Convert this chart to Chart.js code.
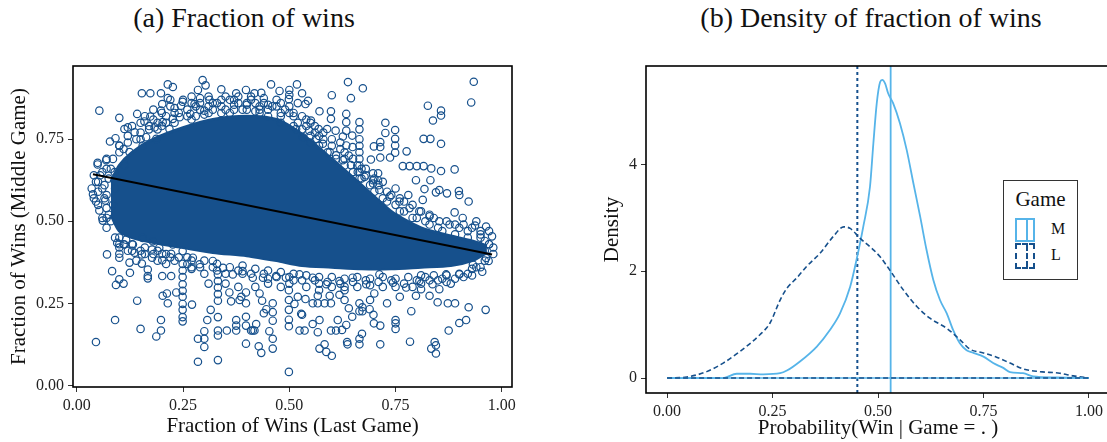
<!DOCTYPE html>
<html><head><meta charset="utf-8">
<script src="https://cdn.jsdelivr.net/npm/chart.js@4.4.1/dist/chart.umd.min.js"></script>
<style>
html,body{margin:0;padding:0;background:#fff;width:1107px;height:442px;overflow:hidden;position:relative;font-family:'Liberation Serif',serif;color:#111;}
canvas{position:absolute;top:0;}
#c1{left:0;}
#c2{left:540px;}
.ttl{position:absolute;top:2px;font-size:28px;white-space:nowrap;text-align:center;}
#legend{position:absolute;left:1003px;top:180px;width:73px;height:98px;border:1px solid #333;background:#fff;}
#legend .gt{position:absolute;left:0;width:73px;top:6px;text-align:center;font-size:21px;}
.gl{position:absolute;left:11px;width:20px;box-sizing:border-box;}
.gl .mid{position:absolute;left:9px;top:0;bottom:0;width:0;}
.lab{position:absolute;left:47px;font-size:16px;}
</style></head>
<body>
<div class="ttl" style="left:0;width:488px;">(a) Fraction of wins</div>
<div class="ttl" style="left:621px;width:500px;">(b) Density of fraction of wins</div>
<canvas id="c1" width="540" height="442"></canvas>
<canvas id="c2" width="570" height="442"></canvas>
<div id="legend">
  <div class="gt">Game</div>
  <div class="gl" style="top:37px;height:24px;border:2px solid #56B4E9;"><div class="mid" style="border-left:2px solid #56B4E9;"></div></div>
  <div class="lab" style="top:39px;">M</div>
  <div class="gl" style="top:62px;height:26px;border:2px dashed #16508c;"><div class="mid" style="border-left:2px dashed #16508c;"></div></div>
  <div class="lab" style="top:65px;">L</div>
</div>
<script>
// ---------- Panel (a): scatter of fraction of wins ----------
const xTicksA = [0, 0.25, 0.5, 0.75, 1];
const yTicksA = [0, 0.25, 0.5, 0.75];
// regression line end points (last game -> middle game)
const regX = [0.038, 0.977];
const regY = [0.643, 0.399];
// saturated core of the point cloud (upper / lower edge)
const coreX     = [0.08, 0.10, 0.13, 0.18, 0.25, 0.32, 0.40, 0.47, 0.53, 0.60, 0.67, 0.74, 0.81, 0.88, 0.93, 0.965];
const coreUpper = [0.62, 0.67, 0.71, 0.75, 0.785,0.81, 0.82, 0.81, 0.765,0.69, 0.61, 0.53, 0.48, 0.455,0.44, 0.425];
const coreLower = [0.52, 0.47, 0.45, 0.435,0.42, 0.405,0.395,0.38, 0.365,0.36, 0.355,0.355,0.36, 0.365,0.38, 0.405];
// individual points [last game, middle game]
const ptsUpperLeft = [[0.053,0.837],[0.153,0.890],[0.173,0.890],[0.214,0.917],[0.226,0.909],[0.296,0.930],[0.303,0.914],[0.285,0.900],[0.290,0.875],[0.312,0.870],[0.340,0.902],[0.375,0.890],[0.398,0.900],[0.418,0.890],[0.434,0.891],[0.457,0.917],[0.477,0.897],[0.499,0.872],[0.198,0.890],[0.214,0.875],[0.201,0.857],[0.100,0.815],[0.142,0.827],[0.159,0.804],[0.173,0.819],[0.198,0.837],[0.230,0.845],[0.245,0.852],[0.249,0.864],[0.267,0.827],[0.277,0.857],[0.300,0.837],[0.112,0.781],[0.120,0.786],[0.136,0.771],[0.091,0.753],[0.078,0.743],[0.100,0.731],[0.049,0.678],[0.049,0.673],[0.069,0.686],[0.038,0.582],[0.061,0.502],[0.053,0.533],[0.067,0.563],[0.089,0.650],[0.112,0.671],[0.124,0.711],[0.163,0.756],[0.183,0.786],[0.202,0.802],[0.226,0.812],[0.242,0.817],[0.187,0.751],[0.218,0.781],[0.155,0.731],
 [0.33,0.86],[0.36,0.87],[0.38,0.86],[0.41,0.87],[0.44,0.86],[0.47,0.87],[0.46,0.85],[0.43,0.84],[0.39,0.84],[0.35,0.84],[0.32,0.84],[0.5,0.85],[0.52,0.86],[0.5,0.83],[0.48,0.82],[0.5,0.9],[0.5,0.885],
 [0.05,0.62],[0.06,0.60],[0.045,0.56],[0.07,0.58],[0.08,0.66],[0.07,0.54],[0.08,0.50],[0.09,0.45],[0.1,0.43],[0.06,0.65],[0.085,0.69],[0.11,0.72],[0.14,0.75],[0.17,0.78],[0.2,0.79],[0.27,0.81],[0.30,0.825],[0.36,0.83],[0.42,0.835],
 [0.12,0.76],[0.13,0.79],[0.15,0.80],[0.16,0.82],[0.18,0.81],[0.18,0.84],[0.20,0.83],[0.22,0.85],[0.22,0.87],[0.24,0.83],[0.25,0.87],[0.27,0.86],[0.27,0.88],[0.29,0.84],[0.29,0.86],[0.31,0.88],[0.32,0.86],[0.34,0.87],[0.35,0.88],[0.37,0.87],[0.38,0.88],[0.40,0.855],[0.41,0.88],[0.42,0.86],[0.44,0.875],[0.45,0.855],[0.47,0.85],[0.48,0.86],[0.49,0.84]];
const ptsUpperRight = [[0.518,0.917],[0.530,0.890],[0.544,0.867],[0.538,0.857],[0.638,0.924],[0.673,0.905],[0.645,0.875],[0.600,0.884],[0.934,0.925],[0.928,0.862],[0.826,0.852],[0.857,0.837],[0.857,0.822],[0.838,0.807],[0.816,0.751],[0.832,0.751],[0.857,0.736],[0.726,0.800],[0.726,0.769],[0.749,0.778],[0.749,0.751],[0.749,0.731],[0.749,0.709],[0.776,0.713],[0.714,0.741],[0.714,0.726],[0.699,0.728],[0.714,0.694],[0.692,0.688],[0.737,0.694],[0.767,0.668],[0.783,0.668],[0.800,0.668],[0.816,0.668],[0.834,0.661],[0.857,0.653],[0.889,0.658],[0.798,0.625],[0.832,0.625],[0.818,0.598],[0.845,0.588],[0.853,0.595],[0.871,0.585],[0.899,0.592],[0.900,0.580],[0.922,0.560],[0.814,0.565],[0.889,0.527],[0.908,0.510],[0.937,0.487],[0.963,0.484],
 [0.665,0.802],[0.665,0.78],[0.665,0.75],[0.665,0.73],[0.665,0.71],[0.665,0.69],[0.665,0.67],[0.665,0.65],[0.665,0.63],[0.634,0.827],[0.634,0.802],[0.634,0.776],
 [0.598,0.835],[0.598,0.812],[0.571,0.835],[0.551,0.807],[0.569,0.781],[0.589,0.781],[0.609,0.776],[0.626,0.758],[0.648,0.761],[0.634,0.731],[0.649,0.726],[0.697,0.646],[0.709,0.646],[0.697,0.625],[0.709,0.625],
 [0.516,0.781],[0.532,0.756],[0.547,0.776],[0.563,0.751],[0.579,0.736],[0.595,0.711],[0.610,0.701],[0.626,0.686],[0.645,0.671],[0.661,0.650],[0.677,0.635],[0.697,0.615],[0.712,0.595],[0.736,0.575],[0.759,0.560],[0.783,0.540],[0.806,0.530],[0.830,0.515],[0.853,0.500],[0.877,0.490],
 [0.52,0.80],[0.54,0.79],[0.56,0.77],[0.58,0.75],[0.6,0.73],[0.62,0.72],[0.64,0.70],[0.68,0.66],[0.72,0.62],[0.75,0.60],[0.78,0.58],[0.72,0.57],[0.76,0.53],[0.79,0.51],[0.82,0.5],[0.85,0.48],[0.9,0.48],[0.92,0.47],[0.95,0.46],[0.96,0.44],[0.94,0.5],[0.97,0.47],
 [0.51,0.83],[0.53,0.82],[0.54,0.81],[0.55,0.80],[0.56,0.79],[0.58,0.77],[0.6,0.75],[0.62,0.74],[0.63,0.71],[0.65,0.69],[0.66,0.67],[0.68,0.64],[0.71,0.61],[0.74,0.58],[0.76,0.57],[0.79,0.55],[0.81,0.53],[0.84,0.51],[0.87,0.50],[0.91,0.49],[0.93,0.48]];
// ring band along the upper edge of the dense cloud
const ptsUpperBand = [[0.07,0.66],[0.07,0.69],[0.10,0.71],[0.10,0.73],[0.12,0.74],[0.15,0.75],[0.15,0.77],[0.17,0.79],[0.19,0.78],[0.19,0.80],[0.21,0.80],[0.21,0.82],[0.23,0.80],[0.23,0.83],[0.26,0.82],[0.26,0.84],[0.28,0.82],[0.28,0.85],[0.31,0.83],[0.31,0.85],[0.34,0.83],[0.34,0.85],[0.37,0.84],[0.37,0.855],[0.40,0.84],[0.40,0.86],[0.43,0.83],[0.43,0.85],[0.45,0.82],[0.45,0.84],[0.48,0.83],[0.48,0.80],[0.51,0.79],[0.51,0.82],[0.53,0.78],[0.55,0.76],[0.55,0.74],[0.57,0.73],[0.57,0.76],[0.59,0.71],[0.61,0.69],[0.63,0.67],[0.63,0.69],[0.65,0.65],[0.67,0.63],[0.67,0.66],[0.69,0.61],[0.70,0.59],[0.70,0.63],[0.73,0.56],[0.73,0.59],[0.75,0.55],[0.77,0.53],[0.77,0.56],[0.80,0.51],[0.83,0.49],[0.83,0.52],[0.86,0.47],[0.89,0.46],[0.89,0.49],[0.92,0.45],[0.95,0.45],[0.95,0.47],[0.97,0.43],
 [0.035,0.60],[0.04,0.57],[0.045,0.62],[0.05,0.55],[0.055,0.64],[0.06,0.51],[0.065,0.61],[0.04,0.64],[0.05,0.59],[0.065,0.57],[0.075,0.63],[0.075,0.52],[0.09,0.60],[0.085,0.55]];
// ring band along the lower edge of the dense cloud
const ptsLowerBand = [[0.07,0.51],[0.07,0.48],[0.10,0.45],[0.10,0.42],[0.13,0.43],[0.13,0.41],[0.16,0.42],[0.16,0.40],[0.19,0.41],[0.21,0.40],[0.21,0.37],[0.24,0.39],[0.27,0.38],[0.27,0.355],[0.30,0.38],[0.33,0.37],[0.33,0.35],[0.36,0.36],[0.39,0.365],[0.39,0.34],[0.42,0.355],[0.45,0.35],[0.45,0.325],[0.48,0.345],[0.51,0.34],[0.51,0.32],[0.54,0.335],[0.57,0.33],[0.57,0.31],[0.60,0.33],[0.63,0.325],[0.63,0.30],[0.66,0.33],[0.69,0.325],[0.69,0.305],[0.72,0.33],[0.75,0.325],[0.75,0.30],[0.78,0.33],[0.81,0.335],[0.81,0.31],[0.84,0.335],[0.87,0.335],[0.87,0.315],[0.90,0.34],[0.93,0.355],[0.93,0.335],[0.96,0.38],[0.98,0.40],[0.98,0.42],
 [0.11,0.43],[0.15,0.41],[0.18,0.40],[0.23,0.38],[0.26,0.39],[0.29,0.36],[0.32,0.36],[0.35,0.34],[0.38,0.35],[0.41,0.34],[0.44,0.34],[0.47,0.33],[0.50,0.33],[0.53,0.32],[0.56,0.32],[0.59,0.315],[0.62,0.31],[0.65,0.315],[0.68,0.32],[0.71,0.315],[0.74,0.32],[0.77,0.31],[0.80,0.32],[0.83,0.32],[0.86,0.325],[0.89,0.325],[0.92,0.34],[0.95,0.36]];
const ptsLowerLeft = [[0.045,0.132],[0.090,0.199],[0.150,0.172],[0.142,0.258],[0.187,0.149],[0.198,0.167],[0.198,0.199],[0.071,0.399],[0.083,0.348],[0.092,0.306],[0.110,0.310],[0.100,0.323],[0.125,0.343],[0.100,0.389],[0.100,0.401],[0.124,0.374],[0.095,0.434],[0.112,0.429],[0.136,0.404],[0.153,0.399],[0.153,0.371],[0.167,0.353],[0.167,0.333],[0.167,0.326],[0.177,0.414],[0.177,0.389],[0.201,0.381],[0.201,0.333],[0.222,0.333],[0.201,0.401],[0.222,0.401],[0.212,0.280],[0.202,0.273],[0.214,0.250],[0.234,0.283],
 [0.249,0.308],[0.249,0.288],[0.249,0.270],[0.249,0.248],[0.249,0.230],[0.249,0.208],[0.249,0.195],[0.249,0.33],[0.249,0.35],[0.249,0.37],
 [0.271,0.246],[0.285,0.072],[0.332,0.077],[0.285,0.142],[0.300,0.142],[0.300,0.117],[0.300,0.165],[0.307,0.199],[0.315,0.230],[0.332,0.167],[0.332,0.152],[0.353,0.167],[0.332,0.208],[0.375,0.199],[0.375,0.182],[0.375,0.167],[0.398,0.209],[0.398,0.182],[0.398,0.127],[0.410,0.167],[0.414,0.167],[0.418,0.167],[0.422,0.187],[0.428,0.119],[0.434,0.099],[0.453,0.165],[0.461,0.142],[0.461,0.112],[0.499,0.041],[0.461,0.223],[0.461,0.197],[0.461,0.250],[0.440,0.220],[0.446,0.232],[0.436,0.258],[0.398,0.250],[0.398,0.283],[0.383,0.260],[0.363,0.256],[0.359,0.283],[0.387,0.270],
 [0.332,0.338],[0.332,0.318],[0.332,0.298],[0.332,0.278],[0.332,0.258],[0.499,0.29],[0.499,0.26],[0.499,0.23],[0.499,0.2],[0.499,0.18],
 [0.116,0.444],[0.132,0.429],[0.155,0.449],[0.179,0.439],[0.194,0.419],[0.226,0.429],[0.249,0.409],[0.273,0.389],[0.289,0.369],[0.320,0.379],[0.344,0.358],[0.367,0.338],[0.390,0.348],[0.414,0.328],[0.438,0.328],[0.469,0.333],[0.492,0.328],
 [0.27,0.36],[0.3,0.34],[0.31,0.31],[0.35,0.31],[0.38,0.3],[0.42,0.3],[0.45,0.31],[0.48,0.3],[0.5,0.31],[0.43,0.28],[0.26,0.37],[0.22,0.39],[0.19,0.38],[0.14,0.38],[0.12,0.41]];
const ptsLowerRight = [[0.571,0.112],[0.587,0.102],[0.600,0.090],[0.583,0.125],[0.636,0.132],[0.637,0.125],[0.665,0.142],[0.665,0.125],[0.671,0.157],[0.714,0.125],[0.784,0.133],[0.834,0.112],[0.842,0.132],[0.845,0.122],[0.845,0.097],[0.875,0.167],[0.900,0.190],[0.916,0.199],[0.962,0.230],[0.922,0.238],[0.528,0.218],[0.555,0.187],[0.571,0.199],[0.567,0.162],[0.524,0.167],[0.536,0.167],[0.598,0.167],[0.610,0.167],[0.624,0.169],[0.614,0.199],[0.634,0.184],[0.648,0.209],[0.640,0.235],[0.672,0.238],[0.672,0.226],[0.689,0.232],[0.698,0.215],[0.699,0.189],[0.714,0.182],[0.750,0.199],[0.750,0.172],[0.750,0.189],[0.787,0.226],[0.849,0.253],[0.873,0.250],[0.890,0.250],[0.665,0.226],[0.665,0.250],[0.555,0.250],[0.567,0.250],[0.583,0.250],[0.598,0.250],[0.530,0.215],[0.512,0.248],[0.520,0.270],[0.538,0.263],[0.567,0.273],[0.595,0.273],[0.618,0.276],[0.830,0.273],[0.853,0.293],[0.810,0.293],[0.798,0.273],[0.977,0.454],[0.969,0.379],[0.954,0.346],
 [0.524,0.338],[0.555,0.328],[0.587,0.308],[0.618,0.318],[0.649,0.328],[0.681,0.308],[0.712,0.338],[0.744,0.313],[0.775,0.298],[0.806,0.318],[0.837,0.308],[0.869,0.338],[0.900,0.338],[0.932,0.368],[0.963,0.388],
 [0.54,0.3],[0.57,0.29],[0.6,0.3],[0.63,0.29],[0.66,0.3],[0.7,0.28],[0.72,0.3],[0.76,0.27],[0.79,0.3],[0.82,0.33],[0.85,0.32],[0.88,0.31],[0.91,0.33],[0.94,0.36],[0.96,0.41],[0.97,0.43],[0.69,0.26],[0.73,0.25],[0.63,0.26]];

// ---------- Panel (b): densities ----------
const xTicksB = [0, 0.25, 0.5, 0.75, 1];
const yTicksB = [0, 2, 4];
const densXM = [0,0.133,0.165,0.197,0.228,0.268,0.284,0.315,0.355,0.386,0.410,0.434,0.449,0.465,0.481,0.489,0.497,0.505,0.510,0.517,0.524,0.536,0.552,0.568,0.584,0.600,0.615,0.631,0.647,0.663,0.678,0.694,0.710,0.726,0.750,0.773,0.797,0.813,0.844,0.868,0.923,1.0];
const densYM = [0,0,0.08,0.08,0.07,0.09,0.14,0.31,0.59,0.90,1.21,1.71,2.21,2.83,3.58,4.39,5.14,5.54,5.58,5.51,5.33,5.14,4.77,4.27,3.64,3.02,2.40,1.84,1.46,1.21,0.90,0.65,0.52,0.47,0.40,0.28,0.19,0.11,0.09,0.03,0.01,0];
const densXL = [0,0.047,0.094,0.133,0.173,0.220,0.244,0.268,0.284,0.307,0.331,0.363,0.394,0.419,0.434,0.457,0.489,0.505,0.528,0.560,0.592,0.623,0.663,0.694,0.718,0.750,0.781,0.813,0.844,0.884,0.931,0.963,1.0];
const densYL = [0,0.02,0.12,0.28,0.50,0.81,1.03,1.46,1.68,1.87,2.09,2.34,2.65,2.83,2.80,2.62,2.40,2.27,2.02,1.65,1.34,1.12,0.93,0.72,0.54,0.47,0.39,0.28,0.17,0.12,0.09,0.04,0];
const meanM = 0.530;
const meanL = 0.451;

// ---------- styling ----------
const DARK = '#16508c', LIGHT = '#56B4E9';
const FONT = 'Liberation Serif';
const frame = {id:'frame', afterDraw(c){const a=c.chartArea,x=c.ctx;x.save();x.strokeStyle='#000';x.lineWidth=1.6;x.strokeRect(a.left,a.top,a.right-a.left,a.bottom-a.top);x.restore();}};
function axis(min,max,ticks,fmt,title,size,pad){
  return {type:'linear',min,max,
    afterBuildTicks:s=>{s.ticks=ticks.map(v=>({value:v}));},
    afterFit:s=>{ if(s.isHorizontal()) s.height=size; else s.width=size; },
    grid:{display:true,drawOnChartArea:false,drawTicks:true,tickLength:5,color:'#333',lineWidth:1},
    border:{display:false},
    ticks:{callback:fmt,color:'#222',font:{family:FONT,size:16},padding:4,maxRotation:0,autoSkip:false},
    title:{display:true,text:title,color:'#111',font:{family:FONT,size:21},padding:pad}};
}
const xy = (xs,ys)=>xs.map((x,i)=>({x,y:ys[i]}));
const f2 = v=>Number(v).toFixed(2);

const allPts = [].concat(ptsUpperLeft,ptsUpperRight,ptsUpperBand,ptsLowerBand,ptsLowerLeft,ptsLowerRight).map(p=>({x:p[0],y:p[1]}));
new Chart(document.getElementById('c1'),{
  type:'scatter',
  data:{datasets:[
    {data:xy(regX,regY),showLine:true,borderColor:'#000',borderWidth:2,pointRadius:0,order:0},
    {data:allPts,pointRadius:3.7,pointBorderWidth:1.2,borderColor:DARK,backgroundColor:'rgba(0,0,0,0)',order:1},
    {data:xy(coreX,coreUpper),showLine:true,tension:0.25,fill:'+1',borderColor:DARK,backgroundColor:DARK,borderWidth:3,pointRadius:0,order:2},
    {data:xy(coreX,coreLower),showLine:true,tension:0.25,borderColor:DARK,borderWidth:3,pointRadius:0,order:3}
  ]},
  options:{responsive:false,animation:false,devicePixelRatio:1,
    layout:{padding:{left:0,top:66,right:28,bottom:0}},
    plugins:{legend:{display:false},tooltip:{enabled:false}},
    scales:{
      x:axis(-0.009,1.024,xTicksA,f2,'Fraction of Wins (Last Game)',55,{top:0,bottom:3}),
      y:axis(-0.005,0.973,yTicksA,f2,'Fraction of Wins (Middle Game)',73,{top:7,bottom:0})
    }},
  plugins:[frame]
});

new Chart(document.getElementById('c2'),{
  type:'scatter',
  data:{datasets:[
    {data:[{x:0,y:0},{x:1,y:0}],showLine:true,borderColor:DARK,borderWidth:1.6,borderDash:[5,3],pointRadius:0,order:0},
    {data:[{x:0,y:0},{x:1,y:0}],showLine:true,borderColor:LIGHT,borderWidth:1.6,pointRadius:0,order:1},
    {data:xy(densXL,densYL),showLine:true,cubicInterpolationMode:'monotone',borderColor:DARK,borderWidth:1.6,borderDash:[5,3],pointRadius:0,order:2},
    {data:xy(densXM,densYM),showLine:true,cubicInterpolationMode:'monotone',borderColor:LIGHT,borderWidth:1.8,pointRadius:0,order:3},
    {data:[{x:meanL,y:-0.28},{x:meanL,y:5.84}],showLine:true,borderColor:DARK,borderWidth:2,borderDash:[3,3],pointRadius:0,order:4},
    {data:[{x:meanM,y:-0.28},{x:meanM,y:5.84}],showLine:true,borderColor:LIGHT,borderWidth:1.8,pointRadius:0,order:5}
  ]},
  options:{responsive:false,animation:false,devicePixelRatio:1,
    layout:{padding:{left:50,top:66,right:0,bottom:0}},
    plugins:{legend:{display:false},tooltip:{enabled:false}},
    scales:{
      x:axis(-0.05,1.05,xTicksB,f2,'Probability(Win | Game = . )',49,{top:0,bottom:1}),
      y:axis(-0.28,5.84,yTicksB,v=>String(v),'Density',56,{top:10,bottom:0})
    }},
  plugins:[frame]
});
</script>
</body></html>
